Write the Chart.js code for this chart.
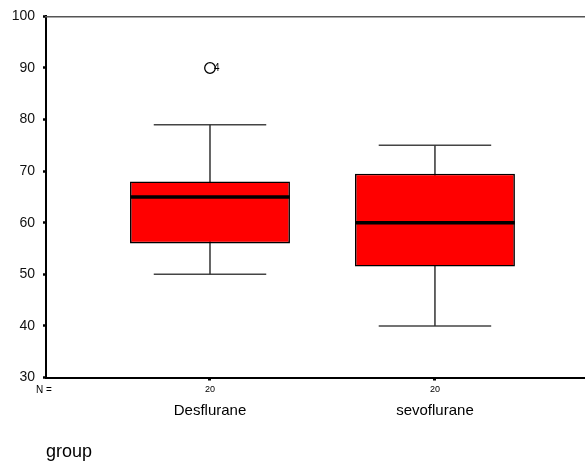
<!DOCTYPE html>
<html><head><meta charset="utf-8">
<script src="https://cdn.jsdelivr.net/npm/chart.js@4.4.1/dist/chart.umd.min.js"></script>
<style>html,body{margin:0;padding:0;background:#fff;} #wrap{width:585px;height:464px;}</style>
</head><body><div id="wrap"><canvas id="c" width="585" height="464"></canvas></div>
<script>
// ---- data ----
const groups = ['Desflurane', 'sevoflurane'];
const groupPositions = [1, 2];
const nCounts = [20, 20];
const lowerWhiskers = [50, 40];
const firstQuartiles = [56, 51.5];
const medians = [65, 60];
const thirdQuartiles = [68, 69.5];
const upperWhiskers = [79, 75];
const outlierGroupIndex = [0];
const outlierValues = [90];
const outlierLabels = ['4'];
const yTickValues = [30, 40, 50, 60, 70, 80, 90, 100];
const xAxisCaption = 'group';
const nLabel = 'N =';

// ---- layout constants (not data) ----
const X_MIN = 0.271, X_MAX = 2.667;
const BOX_HALF = 0.355, CAP_HALF = 0.25;
const FONT = "'Liberation Sans', Arial, sans-serif";
Chart.defaults.font.family = FONT;
Chart.defaults.color = '#000';

const datasets = [];
// medians (top)
groupPositions.forEach((p, i) => {
  datasets.push({type: 'line', order: 0, data: [{x: p - BOX_HALF, y: medians[i]}, {x: p + BOX_HALF, y: medians[i]}],
    borderColor: '#000', borderWidth: 3.5, pointRadius: 0, borderCapStyle: 'butt'});
});
// outliers
datasets.push({type: 'line', order: 0, showLine: false,
  data: outlierValues.map((v, k) => ({x: groupPositions[outlierGroupIndex[k]], y: v})),
  pointRadius: 5.3, pointBorderColor: '#000', pointBackgroundColor: 'rgba(0,0,0,0)', pointBorderWidth: 1.3});
const outlierDatasetIndex = datasets.length - 1;
// boxes
datasets.push({type: 'bar', order: 1,
  data: groupPositions.map((p, i) => ({x: p, y: [firstQuartiles[i], thirdQuartiles[i]]})),
  backgroundColor: '#ff0000', borderColor: '#000', borderWidth: 1.6, borderSkipped: false,
  barPercentage: 0.711, categoryPercentage: 1});
// whiskers + caps
groupPositions.forEach((p, i) => {
  datasets.push({type: 'line', order: 2, data: [{x: p, y: lowerWhiskers[i]}, {x: p, y: upperWhiskers[i]}],
    borderColor: '#333', borderWidth: 1.5, pointRadius: 0});
  datasets.push({type: 'line', order: 2, data: [{x: p - CAP_HALF, y: upperWhiskers[i]}, {x: p + CAP_HALF, y: upperWhiskers[i]}],
    borderColor: '#444', borderWidth: 1.5, pointRadius: 0});
  datasets.push({type: 'line', order: 2, data: [{x: p - CAP_HALF, y: lowerWhiskers[i]}, {x: p + CAP_HALF, y: lowerWhiskers[i]}],
    borderColor: '#444', borderWidth: 1.5, pointRadius: 0});
});

const groupTicks = (scale) => { scale.ticks = groupPositions.map(v => ({value: v})); };

const textPlugin = {
  id: 'texts',
  afterDraw(chart) {
    const ctx = chart.ctx;
    ctx.save();
    ctx.fillStyle = '#000';
    ctx.textBaseline = 'middle';
    const meta = chart.getDatasetMeta(outlierDatasetIndex);
    meta.data.forEach((pt, k) => {
      ctx.font = '10px ' + FONT;
      ctx.textAlign = 'left';
      ctx.fillText(outlierLabels[k], pt.x + 4, pt.y);
    });
    const xs = chart.scales.x;
    ctx.font = '10px ' + FONT;
    ctx.textAlign = 'left';
    ctx.fillText(nLabel, chart.chartArea.left - 10, xs.top + 12.5);
    ctx.restore();
  }
};

new Chart(document.getElementById('c'), {
  data: {datasets},
  plugins: [textPlugin],
  options: {
    responsive: false,
    animation: false,
    events: [],
    layout: {padding: 0, autoPadding: false},
    plugins: {legend: {display: false}, tooltip: {enabled: false}},
    scales: {
      y: {
        type: 'linear', min: 30, max: 100,
        afterBuildTicks: (s) => { s.ticks = yTickValues.map(v => ({value: v})); },
        afterFit: (s) => { s.width = 46; },
        ticks: {font: {size: 14}, color: '#111', padding: 8},
        grid: {drawOnChartArea: false, drawTicks: true, tickLength: 3, tickWidth: 2.5, tickColor: '#000'},
        border: {display: true, color: '#000', width: 2}
      },
      x: {
        type: 'linear', position: 'bottom', min: X_MIN, max: X_MAX, weight: 0, offset: false,
        afterBuildTicks: groupTicks,
        afterFit: (s) => { s.height = 18; s.paddingLeft = 0; s.paddingRight = 0; },
        ticks: {font: {size: 9}, color: '#000', padding: 4, maxRotation: 0,
          callback: (v, i) => String(nCounts[i])},
        grid: {offset: false, drawOnChartArea: false, drawTicks: true, tickLength: 3, tickWidth: 3, tickColor: '#000'},
        border: {display: true, color: '#000', width: 2}
      },
      x2: {
        type: 'linear', position: 'bottom', min: X_MIN, max: X_MAX, weight: 1, offset: false,
        afterBuildTicks: groupTicks,
        afterFit: (s) => { s.height = 68.5; s.paddingLeft = 0; s.paddingRight = 0; },
        ticks: {font: {size: 15}, color: '#000', padding: 6, maxRotation: 0,
          callback: (v, i) => groups[i]},
        grid: {offset: false, display: false, drawTicks: false},
        border: {display: false},
        title: {display: true, text: xAxisCaption, align: 'start', font: {size: 18}, color: '#000', padding: {top: 0, bottom: 1}}
      },
      x3: {
        type: 'linear', position: 'top', min: X_MIN, max: X_MAX, offset: false,
        afterFit: (s) => { s.height = 15; s.paddingLeft = 0; s.paddingRight = 0; },
        ticks: {display: false},
        grid: {offset: false, display: false, drawTicks: false},
        border: {display: true, color: '#555', width: 1.5}
      }
    }
  }
});
</script></body></html>
